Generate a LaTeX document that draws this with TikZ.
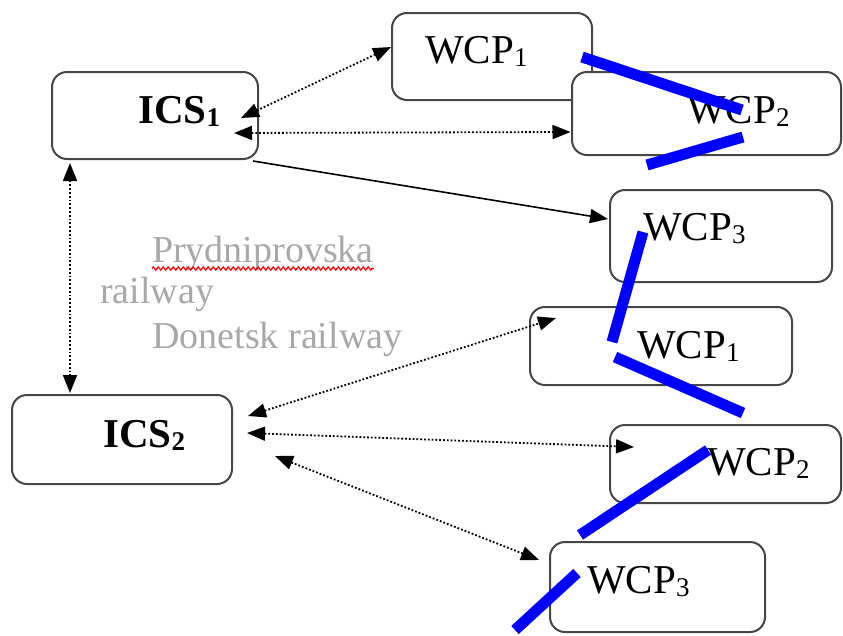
\documentclass[tikz,border=0pt]{standalone}
\usepackage{fontspec}
\setmainfont{Liberation Serif}
\usetikzlibrary{arrows.meta,calc,decorations.pathmorphing}
\definecolor{boxline}{RGB}{70,70,70}
\definecolor{graytext}{RGB}{168,168,168}
\definecolor{markblue}{RGB}{0,0,255}
\newcommand\subdig[1]{\raisebox{-3pt}{\fontsize{27}{30}\selectfont #1}}
\tikzset{
  box/.style={draw=boxline,line width=2pt,rounded corners=15pt,inner sep=0pt},
  lbl/.style={anchor=base west,inner sep=0pt,font=\fontsize{41}{49}\selectfont},
  blbl/.style={lbl,font=\fontsize{41}{49}\selectfont\bfseries},
  glbl/.style={anchor=base west,inner sep=0pt,text=graytext,font=\fontsize{38}{45}\selectfont},
  tip/.style={-{Triangle[length=18pt,width=14pt]}},
  dots/.style={line width=1.8pt,dotted,black},
  dbl/.style={dots,{Triangle[length=18pt,width=14pt]}-{Triangle[length=18pt,width=14pt]}},
  solidarr/.style={line width=1.6pt,black,tip},
  bluemark/.style={line width=11pt,markblue}
}
\begin{document}
\begin{tikzpicture}[x=1pt,y=-1pt]
\useasboundingbox (0,0) rectangle (843,635);
% boxes
\node[box,minimum width=206pt,minimum height=87pt] (ics1) at (155,115.5) {};
\node[box,minimum width=200pt,minimum height=87pt] (wcp1t) at (492,56.5) {};
\node[box,fill=white,minimum width=269pt,minimum height=83pt] (wcp2t) at (706.5,113.5) {};
\node[box,minimum width=222pt,minimum height=92pt] (wcp3t) at (721,236) {};
\node[box,minimum width=262pt,minimum height=78pt] (wcp1b) at (661,346) {};
\node[box,minimum width=231pt,minimum height=78pt] (wcp2b) at (725.5,464) {};
\node[box,minimum width=215pt,minimum height=90pt] (wcp3b) at (657.5,587) {};
\node[box,minimum width=220pt,minimum height=89pt] (ics2) at (122,439.5) {};
% labels
\node[blbl] (ics1t) at (138,123) {ICS\subdig{1}};
\node[lbl] (wcp1tt) at (425,63) {WCP\subdig{1}};
\node[lbl] (wcp2tt) at (687,123) {WCP\subdig{2}};
\node[lbl] (wcp3tt) at (643,240) {WCP\subdig{3}};
\node[lbl] (wcp1bt) at (637,358) {WCP\subdig{1}};
\node[lbl] (wcp2bt) at (707,475) {WCP\subdig{2}};
\node[lbl] (wcp3bt) at (587,593) {WCP\subdig{3}};
\node[blbl] (ics2t) at (103,447) {ICS\subdig{2}};
% gray texts
\node[glbl] (pryd) at (152,262) {Prydniprovska};
\node[glbl] (rail) at (100,303) {railway};
\node[glbl] (don) at (152,348) {Donetsk railway};
\draw[red,line width=1.2pt,decorate,decoration={zigzag,segment length=5pt,amplitude=1.6pt}]
  ($(pryd.base west)+(0,6.5)$) -- ($(pryd.base east)+(0,6.5)$);
% connectors
\draw[dbl] ($(ics1.east)+(-18,2.5)$) -- ($(wcp1t.west)+(0,-9.5)$);
\draw[dbl] ($(ics1.east)+(-25,17.5)$) -- ($(wcp2t.west)+(-0.5,18.5)$);
\draw[solidarr] ($(ics1.south east)+(-6,1)$) -- ($(wcp3t.west)+(-1,-17)$);
\draw[dbl] ($(ics1.south)+(-85,3)$) -- ($(ics2.north)+(-52,-1)$);
\draw[dbl] ($(ics2.east)+(15,-23.5)$) -- ($(wcp1b.west)+(27,-28)$);
\draw[dbl] ($(ics2.east)+(14,-6.5)$) -- ($(wcp2b.west)+(25,-17)$);
\draw[dbl] ($(ics2.east)+(42,16.5)$) -- ($(wcp3b.west)+(-10,-27)$);
% blue marks
\draw[bluemark] (582,57) -- (742,110);
\draw[bluemark] (647,165) -- (743,137);
\draw[bluemark] (643,232) -- (612,342);
\draw[bluemark] (615,357) -- (743,413);
\draw[bluemark] (580,535) -- (708,450);
\draw[bluemark] (577,573) -- (515,630);
\end{tikzpicture}
\end{document}
